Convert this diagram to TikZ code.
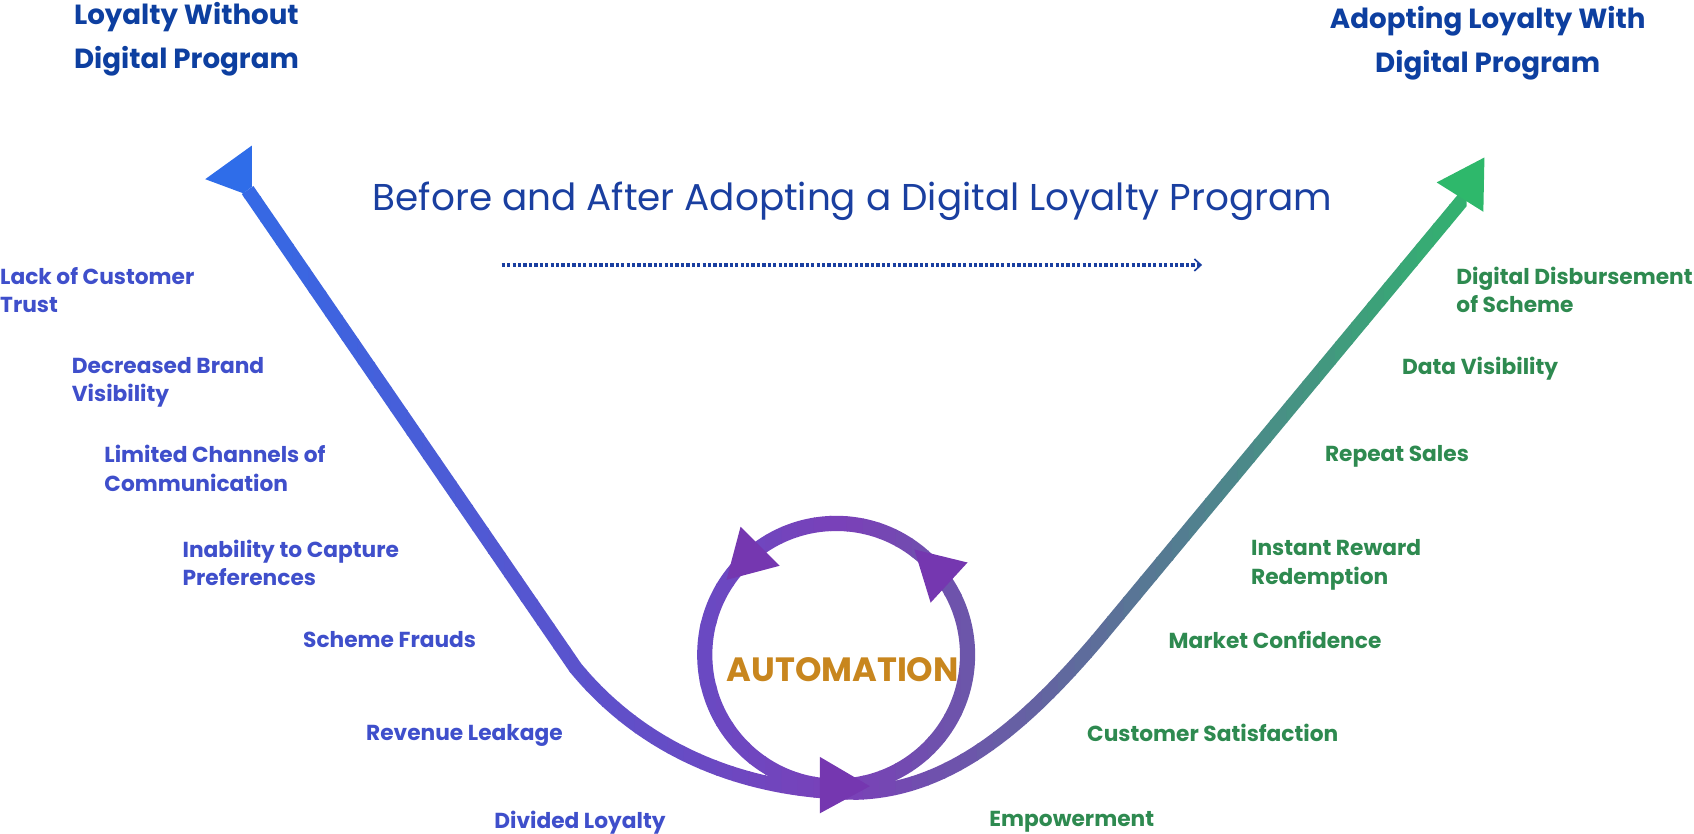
\documentclass[tikz,border=0pt]{standalone}
\usepackage{fontspec}
\setmainfont{Poppins}
\usetikzlibrary{arrows.meta}
\definecolor{lblue}{HTML}{3F4FCB}
\definecolor{lgreen}{HTML}{2E8A50}
\definecolor{tblue}{HTML}{0D3FA0}
\definecolor{sblue}{HTML}{1A3FA0}
\definecolor{gA}{HTML}{2F6DE9}
\definecolor{gB}{HTML}{7A40B8}
\definecolor{gC}{HTML}{2EB86B}
\definecolor{headP}{HTML}{7537B0}
\definecolor{auto}{HTML}{C8861E}
\begin{document}
\begin{tikzpicture}[x=1pt,y=-1pt,
  lbl/.style={anchor=north west,inner sep=0,align=left,font=\fontsize{20}{26}\selectfont\bfseries},
  ll/.style={lbl,text=lblue},
  rl/.style={lbl,text=lgreen},
  ttl/.style={inner sep=0,text=tblue,font=\fontsize{25.5}{40}\selectfont\bfseries}]
\useasboundingbox (0,0) rectangle (1560,768);
% gradient strokes via vertical strips
\foreach \i in {0,...,77}{
  \pgfmathsetmacro{\xa}{180+\i*15}
  \pgfmathsetmacro{\xm}{\xa+7.5}
  \ifdim\xm pt<780pt
    \pgfmathsetmacro{\p}{(\xm-180)/6}
    \colorlet{sc}{gB!\p!gA}
  \else
    \pgfmathsetmacro{\p}{min(100,(\xm-780)/6)}
    \colorlet{sc}{gC!\p!gB}
  \fi
  \begin{scope}
    \clip (\xa-0.5,0) rectangle (\xa+15.5,768);
    \draw[sc,line width=13pt]
      (228,175) -- (530,615) .. controls (600,700) and (700,730) .. (790,730)
      .. controls (880,727) and (950,660) .. (1010,590) -- (1352,178);
    \draw[sc,line width=14pt] (770,603) circle (121);
  \end{scope}
}
% arrowheads
\fill[gA] (189,165) -- (232,134) -- (232,172) -- (224,178) -- cycle;
\fill[gC] (1367,145) -- (1323,168) -- (1366,195) -- cycle;
\fill[headP] (682,485) -- (718,521) -- (669,534) -- cycle;
\fill[headP] (842,506) -- (891,518) -- (857,555) -- cycle;
\fill[headP] (755,697) -- (801,724) -- (755,749) -- cycle;
% titles
\node[ttl,anchor=north west,align=left] (t1) at (68,2) {Loyalty Without\\Digital Program};
\node[ttl,anchor=north,align=center] (t2) at (1370,6) {Adopting Loyalty With\\Digital Program};
\node[inner sep=0,text=sblue,font=\fontsize{34.4}{40}\selectfont] (sub) at (785,185) {Before and After Adopting a Digital Loyalty Program};
\coordinate (d1) at (462,244);
\coordinate (d2) at (1107,244);
\draw[sblue,line width=3pt,dotted,-{Straight Barb[length=6pt,width=11pt,line width=1.5pt]}] (d1) -- (d2);
\node[inner sep=0,text=auto,font=\fontsize{31}{36}\selectfont\bfseries] (am) at (776,617) {AUTOMATION};
% left labels
\node[ll] (l1) at (0,246) {Lack of Customer\\Trust};
\node[ll] (l2) at (66,329) {Decreased Brand\\Visibility};
\node[ll] (l3) at (96,410) {Limited Channels of\\Communication};
\node[ll] (l4) at (168,497) {Inability to Capture\\Preferences};
\node[ll] (l5) at (279,581) {Scheme Frauds};
\node[ll] (l6) at (337,667) {Revenue Leakage};
\node[ll] (l7) at (455,747) {Divided Loyalty};
% right labels
\node[rl] (r1) at (1341,246) {Digital Disbursement\\of Scheme};
\node[rl] (r2) at (1291,329) {Data Visibility};
\node[rl] (r3) at (1220,410) {Repeat Sales};
\node[rl] (r4) at (1152,497) {Instant Reward\\Redemption};
\node[rl] (r5) at (1076,581) {Market Confidence};
\node[rl] (r6) at (1001,667) {Customer Satisfaction};
\node[rl] (r7) at (911,747) {Empowerment};
\end{tikzpicture}
\end{document}
